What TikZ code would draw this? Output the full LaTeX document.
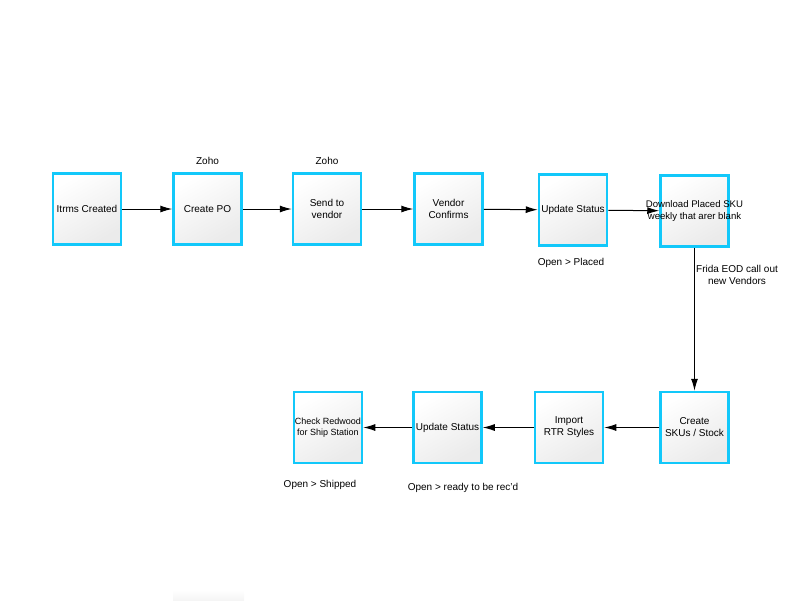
\documentclass[tikz,border=0pt]{standalone}
\usepackage{fontspec}
\setmainfont{Liberation Sans}
\usepackage{tikz}
\usetikzlibrary{positioning,arrows.meta,shadings}
\definecolor{boxblue}{RGB}{18,200,250}
\tikzstyle{task}=[draw=boxblue,line width=2.5pt,minimum width=68pt,minimum height=71pt,inner sep=1pt,align=center,top color=white,bottom color=black!8,shading angle=30]
\tikzstyle{flow}=[-{Latex[length=12pt,width=7pt]},line width=1pt]

\begin{document}
\begin{tikzpicture}[x=1pt,y=-1pt,node distance=50pt,font=\fontsize{10}{12}\selectfont]

	\useasboundingbox (0,0) rectangle (800,600);

	\node[task] (items) at (87,209) {Itrms Created};
	\node[task,right=of items] (po) {Create PO};
	\node[task,right=49pt of po] (send) {Send to\\vendor};
	\node[task,right=51pt of send] (conf) {Vendor\\Confirms};
	\node[task,right=54pt of conf,yshift=-1pt] (upd) {Update Status};
	\node[task,right=51pt of upd,yshift=-1pt] (dl) {};
	\node[align=center,font=\fontsize{9.6}{11.5}\selectfont] (dltext) at (dl) {Download Placed SKU\\weekly that arer blank};

	\node[task,below=143pt of dl] (sku) {Create\\SKUs / Stock};
	\node[task,left=55pt of sku] (rtr) {Import\\RTR Styles};
	\node[task,left=51pt of rtr] (upd2) {Update Status};
	\node[task,left=49pt of upd2,font=\fontsize{9}{11}\selectfont] (red) {Check Redwood\\for Ship Station};

	\node[above=4pt of po] (zoho1) {Zoho};
	\node[above=4pt of send] (zoho2) {Zoho};
	\node[below=8pt of upd, xshift=-2pt] (placed) {Open > Placed};
	\node[align=center] (frida) at (737,275) {Frida EOD call out\\new Vendors};
	\node (shipped) at (320,485) {Open > Shipped};
	\node (ready) at (463,488) {Open > ready to be rec'd};

	\shade[top color=white,bottom color=black!4] (173,590) rectangle (244,600);

	\draw[flow] (items) -- (po);
	\draw[flow] (po) -- (send);
	\draw[flow] (send) -- (conf);
	\draw[flow] (conf) -- (upd);
	\draw[flow] (upd) -- (dl);
	\draw[flow] (dl) -- (sku);
	\draw[flow] (sku) -- (rtr);
	\draw[flow] (rtr) -- (upd2);
	\draw[flow] (upd2) -- (red);

\end{tikzpicture}
\end{document}
